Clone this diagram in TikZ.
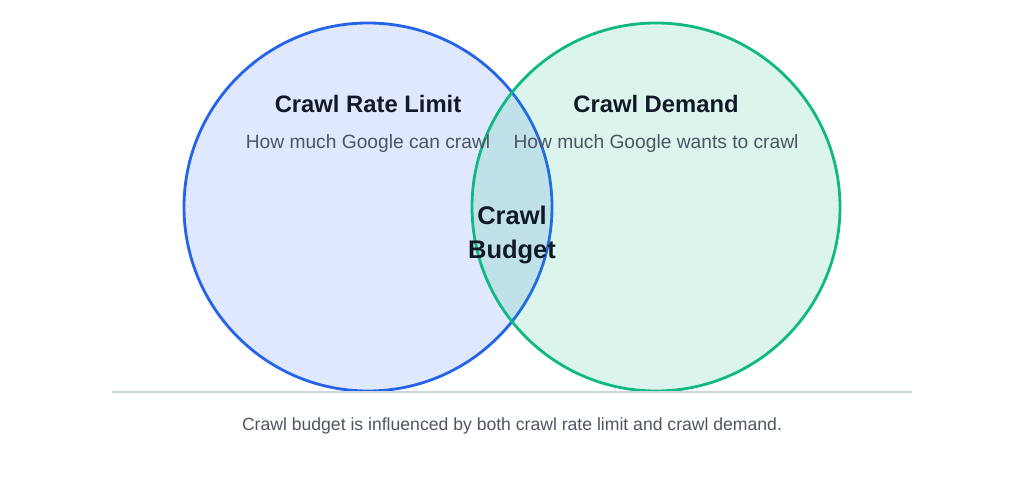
\documentclass[tikz,border=0pt]{standalone}
\usepackage{fontspec}
\setmainfont{Liberation Sans}
\usetikzlibrary{positioning}

\definecolor{limitcol}{HTML}{2563EB}
\definecolor{demandcol}{HTML}{10B981}
\definecolor{titlecol}{HTML}{111827}
\definecolor{subcol}{HTML}{4B5563}
\definecolor{rulecol}{HTML}{CBD5E1}

\tikzset{
  setcircle/.style={circle,minimum size=368bp,inner sep=0pt,line width=2.8bp},
  settitle/.style={font=\fontsize{23.8bp}{28bp}\selectfont\bfseries,text=titlecol},
  setsub/.style={font=\fontsize{19.2bp}{23bp}\selectfont,text=subcol},
}

\begin{document}
\begin{tikzpicture}[line join=bevel]
\useasboundingbox (0bp,0bp) rectangle (1024bp,480bp);

% Node: limit
\node [setcircle,draw=limitcol,fill=limitcol,fill opacity=0.15,draw opacity=1] (limit) at (368bp,273bp) {};

% Node: demand
\node [setcircle,draw=demandcol,fill=demandcol,fill opacity=0.15,draw opacity=1] (demand) at (656bp,273bp) {};

% Labels: limit
\node [settitle] (limittitle) at (368bp,376bp) {Crawl Rate Limit};
\node [setsub] (limitsub) at (368bp,336bp) {How much Google can crawl};

% Labels: demand
\node [settitle] (demandtitle) at (656bp,376bp) {Crawl Demand};
\node [setsub] (demandsub) at (656bp,336bp) {How much Google wants to crawl};

% Node: budget
\node [settitle,align=center,font=\fontsize{25.5bp}{34bp}\selectfont\bfseries] (budget) at (512bp,245bp) {Crawl\\Budget};

% Rule and caption
\coordinate (ruleleft) at (112bp,88bp);
\coordinate (ruleright) at (912bp,88bp);
\draw [rulecol,line width=1.5bp] (ruleleft) -- (ruleright);
\node [font=\fontsize{17.6bp}{21bp}\selectfont,text=subcol] (caption) at (512bp,54bp) {Crawl budget is influenced by both crawl rate limit and crawl demand.};

\end{tikzpicture}
\end{document}
